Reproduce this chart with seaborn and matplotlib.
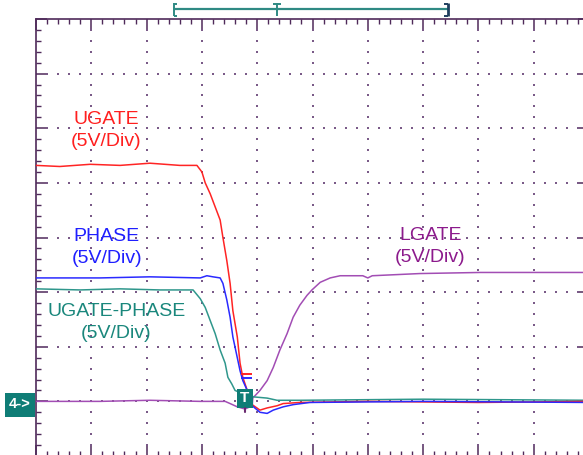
import numpy as np
import pandas as pd
import matplotlib
matplotlib.use("Agg")
import matplotlib.pyplot as plt
from matplotlib.lines import Line2D
from matplotlib.patches import Rectangle
import seaborn as sns

# ---- data (time in divisions, voltage in V; 5 V/div, ground = 0 V) ----
ugate_t = [0, 0.43, 0.98, 1.52, 2.06, 2.60, 2.91, 3.00, 3.06, 3.15, 3.24, 3.33, 3.38, 3.45,
           3.51, 3.56, 3.64, 3.69, 3.74, 3.82, 3.91, 4.05, 4.18, 4.36, 4.47, 4.77, 6.0, 8.0, 10.0]
ugate_v = [21.6, 21.5, 21.7, 21.6, 21.8, 21.6, 21.6, 21.0, 20.0, 19.0, 17.8, 16.6, 15.0, 12.9,
           10.8, 8.3, 5.9, 3.5, 2.2, 1.0, -0.3, -0.8, -0.6, -0.4, -0.2, -0.1, 0.0, -0.1, 0.0]

phase_t = [0, 1.16, 2.06, 2.97, 3.09, 3.20, 3.33, 3.38, 3.45, 3.51, 3.56, 3.64, 3.69, 3.74,
           3.82, 3.91, 4.05, 4.18, 4.29, 4.47, 4.65, 4.95, 7.0, 10.0]
phase_v = [11.3, 11.3, 11.4, 11.3, 11.5, 11.4, 11.3, 10.8, 9.3, 7.7, 5.9, 4.0, 2.8, 1.9,
           1.0, -0.4, -1.0, -1.1, -0.8, -0.5, -0.3, -0.1, 0.0, -0.1]

ugph_t = [0, 0.80, 1.52, 2.24, 2.84, 2.97, 3.06, 3.15, 3.24, 3.33, 3.42, 3.47, 3.54, 3.60,
          3.78, 3.96, 4.18, 4.36, 4.77, 7.0, 10.0]
ugph_v = [10.3, 10.2, 10.3, 10.2, 10.2, 9.4, 8.6, 7.4, 6.2, 4.7, 3.5, 2.2, 1.6, 1.0,
          0.6, 0.4, 0.3, 0.1, 0.1, 0.2, 0.1]

lgate_t = [0, 1.16, 2.06, 2.97, 3.42, 3.51, 3.64, 3.78, 3.91, 3.92, 4.05, 4.18, 4.29, 4.41,
           4.54, 4.65, 4.77, 4.90, 4.99, 5.14, 5.32, 5.50, 5.91, 6.00, 6.08, 6.94, 8.03, 10.0]
lgate_v = [0.0, 0.0, 0.1, 0.0, 0.0, -0.2, -0.5, -0.7, -0.4, 0.3, 1.0, 1.9, 3.1, 4.7,
           6.2, 7.7, 8.8, 9.7, 10.2, 10.9, 11.3, 11.5, 11.5, 11.3, 11.5, 11.7, 11.8, 11.8]

trace_names = ["UGATE", "PHASE", "UGATE-PHASE", "LGATE"]
label_text = ["UGATE\n(5V/Div)", "PHASE\n(5V/Div)", "UGATE-PHASE\n(5V/Div)", "LGATE\n(5V/Div)"]
label_t = [1.27, 1.28, 1.45, 7.13]
label_v = [24.8, 14.1, 7.2, 14.2]

cursor_t = [3.80, 3.80]
cursor_v = [2.5, 2.1]

# ---- styling ----
trace_colors = {"UGATE": "#ff2424", "PHASE": "#2a2aff", "UGATE-PHASE": "#2f978c", "LGATE": "#a24db4"}
text_colors = ["#ff1f1f", "#1f1fff", "#1a877c", "#8c1a8c"]
frame_col = "#4f2a5a"
dot_col = "#7a5a88"
teal_box = "#0f7d76"

df = pd.concat([
    pd.DataFrame({"t": ugate_t, "v": ugate_v, "trace": "UGATE"}),
    pd.DataFrame({"t": phase_t, "v": phase_v, "trace": "PHASE"}),
    pd.DataFrame({"t": ugph_t, "v": ugph_v, "trace": "UGATE-PHASE"}),
    pd.DataFrame({"t": lgate_t, "v": lgate_v, "trace": "LGATE"}),
], ignore_index=True)

sns.set_style("white")
plt.rcParams["font.family"] = ["Liberation Sans", "DejaVu Sans"]

W, H = 583, 455
fig = plt.figure(figsize=(W / 100, H / 100), dpi=100)
fig.patch.set_facecolor("white")
ax = fig.add_axes([36 / W, (H - 456) / H, 553 / W, 437 / H])
ax.set_xlim(0, 10)
ax.set_ylim(-5, 35)

# dotted graticule
minor_x = np.arange(0, 10.001, 0.2)
minor_y = np.arange(-5, 35.001, 1.0)
for gx in range(1, 10):
    ax.scatter(np.full(minor_y.size, gx), minor_y, s=1.6, marker="s", color=dot_col, linewidths=0, zorder=1)
for gy in range(0, 35, 5):
    ax.scatter(minor_x, np.full(minor_x.size, gy), s=1.6, marker="s", color=dot_col, linewidths=0, zorder=1)

order = ["LGATE", "UGATE-PHASE", "UGATE", "PHASE"]
for name in order:
    sub = df[df["trace"] == name]
    sns.lineplot(data=sub, x="t", y="v", color=trace_colors[name], lw=1.1,
                 sort=False, estimator=None, ax=ax, legend=False, zorder=3)

ax.scatter(cursor_t, cursor_v, marker="_", s=60, c=[trace_colors["UGATE"], trace_colors["PHASE"]],
           linewidths=1.4, zorder=4)

for txt, tx, ty, col in zip(label_text, label_t, label_v, text_colors):
    ax.text(tx, ty, txt, color=col, fontsize=14, ha="center", va="center",
            linespacing=1.35, zorder=5)

# frame + ticks
for sp in ax.spines.values():
    sp.set_color(frame_col)
    sp.set_linewidth(1.2)
ax.set_xticks(np.arange(0, 11, 1))
ax.set_xticks(minor_x, minor=True)
ax.set_yticks(np.arange(-5, 36, 5))
ax.set_yticks(minor_y, minor=True)
ax.tick_params(which="both", direction="in", top=True, right=True, bottom=True, left=True,
               labelbottom=False, labelleft=False, color=frame_col)
ax.tick_params(which="major", length=8, width=1.1)
ax.tick_params(which="minor", length=3.8, width=1.0)
ax.set_xlabel("")
ax.set_ylabel("")

# trigger T box at ground
def px(x, y):
    return x / W, 1 - y / H

fig.add_artist(Rectangle(px(237, 408), 16 / W, 19 / H, transform=fig.transFigure,
                         facecolor=teal_box, edgecolor="none", zorder=10))
fig.text(*px(245, 398.5), "T", color="white", fontsize=11, fontweight="bold",
         ha="center", va="center", zorder=11)
fig.add_artist(Line2D([245 / W, 245 / W], [1 - 408 / H, 1 - 412 / H], color="#6a2a70",
                      lw=1.5, transform=fig.transFigure, zorder=10))

# channel 4 ground marker
fig.add_artist(Rectangle(px(5, 417), 30 / W, 24 / H, transform=fig.transFigure,
                         facecolor=teal_box, edgecolor="none", zorder=10))
fig.text(*px(20, 404), "4->", color="white", fontsize=10.5, fontweight="bold",
         ha="center", va="center", zorder=11)

# record bar at top
bar_col = "#2f8a84"
def fline(xs, ys, col=bar_col, lw=1.4):
    fig.add_artist(Line2D([x / W for x in xs], [1 - y / H for y in ys], color=col, lw=lw,
                          transform=fig.transFigure, solid_capstyle="butt"))
fline([173, 448], [9, 9], lw=1.6)
fline([174, 174], [3, 16])
fline([174, 177], [3.5, 3.5])
fline([174, 177], [15.5, 15.5])
fline([447.5, 447.5], [3, 16], col="#1f3f5f", lw=2.0)
fline([444, 448], [3.5, 3.5], col="#1f3f5f")
fline([444, 448], [15.5, 15.5], col="#1f3f5f")
fline([277, 277], [3, 16])
fline([273, 281], [3.5, 3.5])

fig.savefig("out.png", dpi=100)
